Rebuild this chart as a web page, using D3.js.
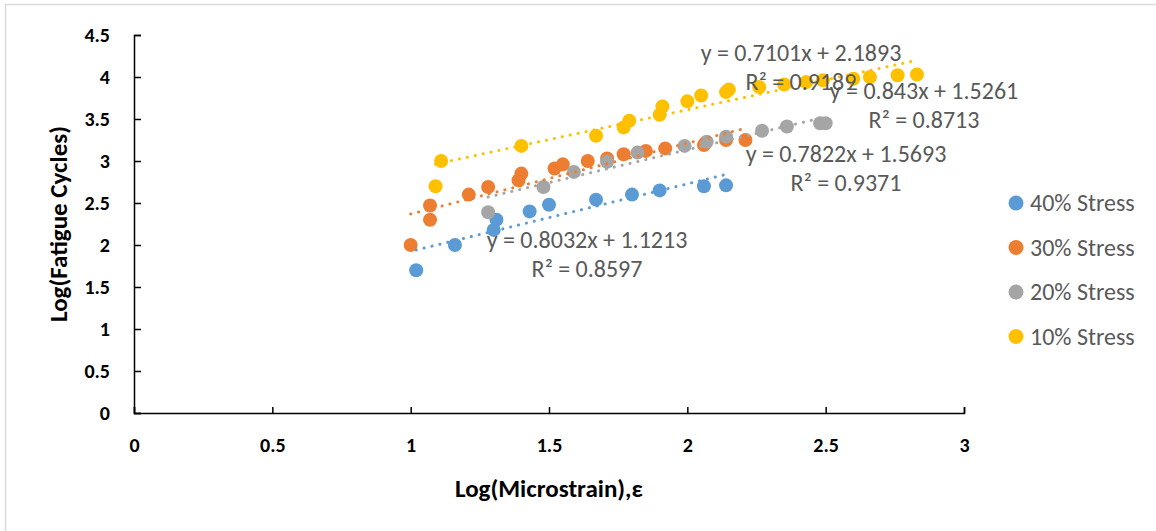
<!DOCTYPE html>
<html>
<head>
<meta charset="utf-8">
<script src="https://cdn.jsdelivr.net/npm/d3@7"></script>
<style>
  body { margin: 0; background: #fff; }
  svg { display: block; font-family: Calibri, Carlito, "Open Sans", sans-serif; }
</style>
</head>
<body>
<div id="chart"></div>
<script>
// series data
var names = ["40% Stress", "30% Stress", "20% Stress", "10% Stress"];
var colors = ["#5B9BD5", "#ED7D31", "#A5A5A5", "#FFC000"];

var x40 = [1.02, 1.16, 1.30, 1.31, 1.43, 1.50, 1.67, 1.80, 1.90, 2.06, 2.14];
var y40 = [1.70, 2.00, 2.18, 2.30, 2.40, 2.48, 2.54, 2.60, 2.65, 2.70, 2.71];

var x30 = [1.00, 1.07, 1.07, 1.21, 1.28, 1.39, 1.40, 1.52, 1.55, 1.64, 1.71, 1.77, 1.85, 1.92, 2.06, 2.14, 2.21];
var y30 = [2.00, 2.30, 2.47, 2.60, 2.69, 2.77, 2.85, 2.91, 2.96, 3.00, 3.03, 3.08, 3.12, 3.15, 3.19, 3.25, 3.25];

var x20 = [1.28, 1.48, 1.59, 1.71, 1.82, 1.99, 2.07, 2.14, 2.27, 2.36, 2.48, 2.50];
var y20 = [2.39, 2.69, 2.87, 2.99, 3.10, 3.18, 3.23, 3.29, 3.36, 3.41, 3.45, 3.45];

var x10 = [1.09, 1.11, 1.40, 1.67, 1.77, 1.79, 1.90, 1.91, 2.00, 2.05, 2.14, 2.15, 2.26, 2.35, 2.43, 2.49, 2.60, 2.66, 2.76, 2.83];
var y10 = [2.70, 3.00, 3.18, 3.30, 3.40, 3.48, 3.55, 3.65, 3.71, 3.78, 3.82, 3.85, 3.88, 3.91, 3.94, 3.96, 3.98, 4.00, 4.02, 4.03];

// linear trendlines shown on the chart
var slopes = [0.8032, 0.843, 0.7822, 0.7101];
var intercepts = [1.1213, 1.5261, 1.5693, 2.1893];
var eqLabels = ["y = 0.8032x + 1.1213", "y = 0.843x + 1.5261", "y = 0.7822x + 1.5693", "y = 0.7101x + 2.1893"];
var r2Labels = ["R\u00B2 = 0.8597", "R\u00B2 = 0.8713", "R\u00B2 = 0.9371", "R\u00B2 = 0.9189"];

var xTicks = [0, 0.5, 1, 1.5, 2, 2.5, 3];
var yTicks = [0, 0.5, 1, 1.5, 2, 2.5, 3, 3.5, 4, 4.5];

var xs = [x40, x30, x20, x10];
var ys = [y40, y30, y20, y10];

var width = 1156, height = 531;
var svg = d3.select("#chart").append("svg")
    .attr("width", width)
    .attr("height", height);

// chart border
svg.append("rect")
    .attr("x", 5.5).attr("y", 4.5)
    .attr("width", 1160).attr("height", 540)
    .attr("fill", "none")
    .attr("stroke", "#d9d9d9")
    .attr("stroke-width", 1.5);

var x = d3.scaleLinear().domain([0, 3]).range([134, 964]);
var y = d3.scaleLinear().domain([0, 4.5]).range([413, 35]);

var xAxis = svg.append("g")
    .attr("transform", "translate(0," + y(0) + ")")
    .call(d3.axisBottom(x).tickValues(xTicks).tickSize(-6).tickPadding(25)
        .tickFormat(d3.format("")));
var yAxis = svg.append("g")
    .attr("transform", "translate(" + x(0) + ",0)")
    .call(d3.axisLeft(y).tickValues(yTicks).tickSize(-7).tickPadding(24)
        .tickFormat(d3.format("")));

[xAxis, yAxis].forEach(function(ax){
    ax.select(".domain").attr("stroke", "#000").attr("stroke-width", 1.5);
    ax.selectAll(".tick line").attr("stroke", "#000").attr("stroke-width", 1.5);
    ax.selectAll(".tick text")
        .attr("fill", "#000")
        .style("font-family", "Calibri, Carlito, 'Open Sans', sans-serif")
        .style("font-weight", "bold")
        .style("font-size", "20px");
});

// axis titles
svg.append("text")
    .attr("x", (x(0) + x(3)) / 2)
    .attr("y", 497)
    .attr("text-anchor", "middle")
    .style("font-weight", "bold")
    .style("font-size", "25px")
    .text("Log(Microstrain),\u03B5");

svg.append("text")
    .attr("transform", "translate(67," + (y(0) + y(4.5)) / 2 + ") rotate(-90)")
    .attr("text-anchor", "middle")
    .style("font-weight", "bold")
    .style("font-size", "25px")
    .text("Log(Fatigue Cycles)");

// markers
var series = names.map(function(n, i){
    return {name: n, color: colors[i], pts: xs[i].map(function(v, j){ return [v, ys[i][j]]; }),
            m: slopes[i], b: intercepts[i]};
});

series.forEach(function(s){
    svg.append("g").selectAll("circle")
        .data(s.pts)
      .enter().append("circle")
        .attr("cx", function(d){ return x(d[0]); })
        .attr("cy", function(d){ return y(d[1]); })
        .attr("r", 7)
        .attr("fill", s.color);
});

// dotted trendlines over the markers
series.forEach(function(s){
    var x0 = d3.min(s.pts, function(d){ return d[0]; });
    var x1 = d3.max(s.pts, function(d){ return d[0]; });
    svg.append("line")
        .attr("x1", x(x0)).attr("y1", y(s.m * x0 + s.b))
        .attr("x2", x(x1)).attr("y2", y(s.m * x1 + s.b))
        .attr("stroke", s.color)
        .attr("stroke-width", 3)
        .attr("stroke-linecap", "round")
        .attr("stroke-dasharray", "0.1 8");
});

// equation labels (centre x, baseline of first line)
var labelPos = [[587, 248], [924, 99], [846, 162], [801, 61]];
labelPos.forEach(function(p, i){
    var g = svg.append("g")
        .attr("fill", "#595959")
        .style("font-size", "24px")
        .attr("text-anchor", "middle");
    g.append("text").attr("x", p[0]).attr("y", p[1]).text(eqLabels[i]);
    g.append("text").attr("x", p[0]).attr("y", p[1] + 28.5).text(r2Labels[i]);
});

// legend
var legend = svg.append("g").selectAll("g")
    .data(names)
  .enter().append("g")
    .attr("transform", function(d, i){ return "translate(1016," + (203 + i * 44.5) + ")"; });
legend.append("circle")
    .attr("r", 7.5)
    .attr("fill", function(d, i){ return colors[i]; });
legend.append("text")
    .attr("x", 14)
    .attr("dy", "0.35em")
    .attr("fill", "#595959")
    .style("font-size", "24px")
    .text(function(d){ return d; });
</script>
</body>
</html>
